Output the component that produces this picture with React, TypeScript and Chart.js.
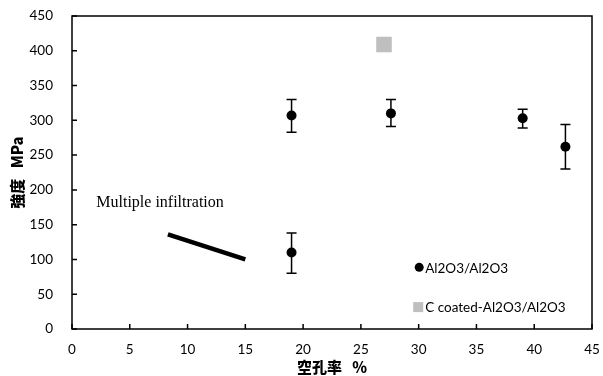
import { useEffect, useRef } from "react";
import { Chart, registerables } from "chart.js";
Chart.register(...registerables);

// Al2O3/Al2O3 series (porosity %, strength MPa, error bars)
const porosityAl = [19, 27.6, 39, 42.7, 19];
const strengthAl = [307, 310, 303, 262, 110];
const errUpAl = [23, 20, 13, 32, 28];
const errDownAl = [24, 19, 14, 32, 30];

// C coated-Al2O3/Al2O3 series
const porosityC = [27];
const strengthC = [409];

// "Multiple infiltration" trend line
const porosityMI = [8.3, 15];
const strengthMI = [136, 100];

const xTicks = [0, 5, 10, 15, 20, 25, 30, 35, 40, 45];
const yTicks = [0, 50, 100, 150, 200, 250, 300, 350, 400, 450];

const legendLabels = ["Al2O3/Al2O3", "C coated-Al2O3/Al2O3"];
const annotationText = "Multiple infiltration";
const annotationPos = { x: 2.1, y: 181 };

const SANS = "Lato, 'Open Sans', sans-serif";

export default function App() {
  const ref = useRef<HTMLCanvasElement>(null);
  useEffect(() => {
    document.body.style.margin = "0";
    const extras = {
      id: "extras",
      beforeDatasetsDraw(chart: any) {
        const { ctx, scales } = chart;
        const xs = scales.x, ys = scales.y;
        ctx.save();
        ctx.strokeStyle = "#000";
        ctx.lineWidth = 1.5;
        porosityAl.forEach((px, i) => {
          const x = xs.getPixelForValue(px);
          const yt = ys.getPixelForValue(strengthAl[i] + errUpAl[i]);
          const yb = ys.getPixelForValue(strengthAl[i] - errDownAl[i]);
          ctx.beginPath();
          ctx.moveTo(x, yt);
          ctx.lineTo(x, yb);
          ctx.moveTo(x - 5, yt);
          ctx.lineTo(x + 5, yt);
          ctx.moveTo(x - 5, yb);
          ctx.lineTo(x + 5, yb);
          ctx.stroke();
        });
        ctx.restore();
      },
      afterDraw(chart: any) {
        const { ctx, chartArea: a, scales } = chart;
        const xs = scales.x, ys = scales.y;
        ctx.save();
        ctx.strokeStyle = "#000";
        ctx.lineWidth = 1.5;
        ctx.strokeRect(a.left, a.top, a.right - a.left, a.bottom - a.top);
        ctx.beginPath();
        xTicks.forEach((v) => {
          const x = xs.getPixelForValue(v);
          ctx.moveTo(x, a.bottom);
          ctx.lineTo(x, a.bottom - 5);
        });
        yTicks.forEach((v) => {
          const y = ys.getPixelForValue(v);
          ctx.moveTo(a.left, y);
          ctx.lineTo(a.left + 5, y);
        });
        ctx.stroke();

        // annotation
        ctx.fillStyle = "#000";
        ctx.font = "16px 'Liberation Serif', serif";
        ctx.textBaseline = "middle";
        ctx.textAlign = "left";
        ctx.fillText(annotationText, xs.getPixelForValue(annotationPos.x), ys.getPixelForValue(annotationPos.y));

        // legend
        const lx = a.left + (a.right - a.left) * 0.66;
        const ly1 = a.top + (a.bottom - a.top) * 0.803;
        const ly2 = a.top + (a.bottom - a.top) * 0.93;
        ctx.font = `13.5px ${SANS}`;
        ctx.beginPath();
        ctx.arc(lx + 4, ly1, 4.5, 0, Math.PI * 2);
        ctx.fill();
        ctx.fillText(legendLabels[0], lx + 10, ly1 + 1);
        ctx.fillStyle = "#BFBFBF";
        ctx.fillRect(lx - 2, ly2 - 5, 10, 10);
        ctx.fillStyle = "#000";
        ctx.fillText(legendLabels[1], lx + 10, ly2 + 1);
        ctx.restore();
      },
    };

    const chart = new Chart(ref.current!, {
      type: "scatter",
      data: {
        datasets: [
          {
            label: legendLabels[0],
            data: porosityAl.map((x, i) => ({ x, y: strengthAl[i] })),
            pointStyle: "circle",
            pointRadius: 5,
            backgroundColor: "#000",
            borderColor: "#000",
            borderWidth: 0,
          },
          {
            label: legendLabels[1],
            data: porosityC.map((x, i) => ({ x, y: strengthC[i] })),
            pointStyle: "rect",
            pointRadius: 11,
            backgroundColor: "#BFBFBF",
            borderColor: "#BFBFBF",
            borderWidth: 0,
          },
          {
            label: annotationText,
            data: porosityMI.map((x, i) => ({ x, y: strengthMI[i] })),
            showLine: true,
            pointRadius: 0,
            borderColor: "#000",
            borderWidth: 4.5,
            borderCapStyle: "butt",
          },
        ],
      },
      options: {
        animation: false,
        responsive: true,
        maintainAspectRatio: false,
        layout: { padding: { left: 0, right: 8, top: 16, bottom: 0 } },
        plugins: { legend: { display: false }, tooltip: { enabled: false } },
        scales: {
          x: {
            type: "linear",
            min: 0,
            max: 45,
            afterFit: (s: any) => { s.height = 47; s.paddingLeft = 0; s.paddingRight = 0; },
            afterBuildTicks: (s: any) => { s.ticks = xTicks.map((v) => ({ value: v })); },
            grid: { display: false, drawTicks: false },
            border: { display: false },
            ticks: { color: "#000", font: { family: SANS, size: 13.5 }, padding: 13, maxRotation: 0 },
            title: {
              display: true,
              text: "空孔率   %",
              color: "#000",
              font: { family: "'Noto Sans CJK JP', sans-serif", size: 15, weight: "900" },
              padding: { top: 0, bottom: 0 },
            },
          },
          y: {
            type: "linear",
            min: 0,
            max: 450,
            afterFit: (s: any) => { s.width = 72; s.paddingTop = 0; s.paddingBottom = 0; },
            afterBuildTicks: (s: any) => { s.ticks = yTicks.map((v) => ({ value: v })); },
            grid: { display: false, drawTicks: false },
            border: { display: false },
            ticks: { color: "#000", font: { family: SANS, size: 13.5 }, padding: 19 },
            title: {
              display: true,
              text: "強度   MPa",
              color: "#000",
              font: { family: "'Noto Sans CJK JP', sans-serif", size: 15, weight: "900" },
              padding: { top: 8, bottom: 0 },
            },
          },
        },
      },
      plugins: [extras],
    } as any);
    return () => chart.destroy();
  }, []);
  return (
    <div style={{ width: 603, height: 376, position: "relative" }}>
      <canvas ref={ref} />
    </div>
  );
}
